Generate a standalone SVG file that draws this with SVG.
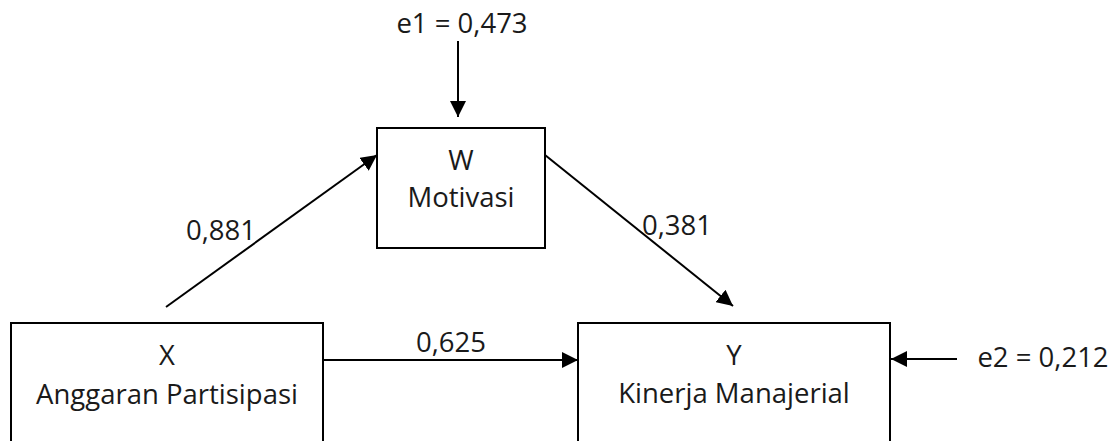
<svg xmlns="http://www.w3.org/2000/svg" width="1119" height="441" viewBox="0 0 1119 441">
<style>
.box{fill:#fff;stroke:#000;stroke-width:2}
.lbl{font-family:"Open Sans","Noto Sans",sans-serif;font-size:27.5px;fill:#1a1a1a;text-anchor:middle}
.arr{stroke:#000;stroke-width:2;fill:none;marker-end:url(#ah)}
</style>
<defs>
<marker id="ah" markerUnits="userSpaceOnUse" markerWidth="16" markerHeight="16" viewBox="0 0 16 16" refX="16" refY="8" orient="auto">
<path d="M0,0 L16,8 L0,16 Z" fill="#000"/>
</marker>
</defs>
<g id="node-X">
<rect class="box" x="11" y="323" width="312" height="140"/>
<text class="lbl" x="167" y="365">X</text>
<text class="lbl" x="167" y="404">Anggaran Partisipasi</text>
</g>
<g id="node-Y">
<rect class="box" x="578" y="323" width="312" height="140"/>
<text class="lbl" x="734" y="365">Y</text>
<text class="lbl" x="734" y="403">Kinerja Manajerial</text>
</g>
<g id="node-W">
<rect class="box" x="377" y="128" width="168" height="120"/>
<text class="lbl" x="461" y="170">W</text>
<text class="lbl" x="461" y="207">Motivasi</text>
</g>
<g id="node-e1">
<text class="lbl" x="462" y="33">e1 = 0,473</text>
</g>
<g id="node-e2">
<text class="lbl" x="1043" y="367">e2 = 0,212</text>
</g>
<g id="connectors">
<line class="arr" x1="458" y1="41" x2="458" y2="117"/>
<line class="arr" x1="166" y1="307" x2="377" y2="155"/>
<line class="arr" x1="545" y1="155" x2="733" y2="306"/>
<line class="arr" x1="323" y1="360" x2="578" y2="360"/>
<line class="arr" x1="957" y1="359" x2="891" y2="359"/>
<text class="lbl" x="221" y="240">0,881</text>
<text class="lbl" x="677" y="235">0,381</text>
<text class="lbl" x="451" y="352">0,625</text>
</g>
</svg>
